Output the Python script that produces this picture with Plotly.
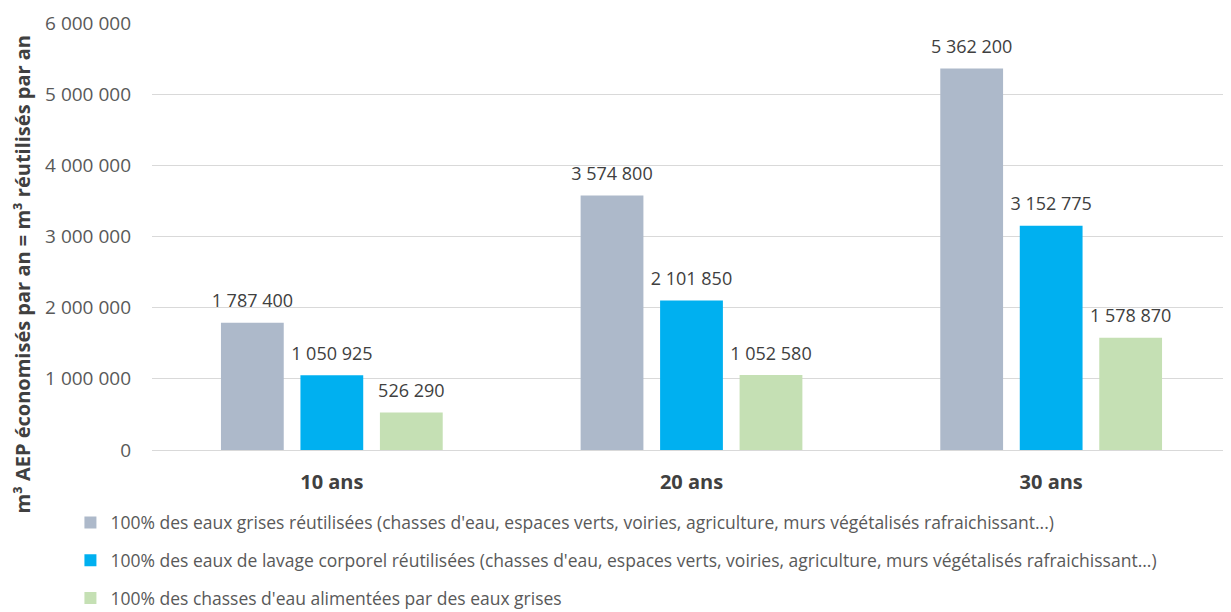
import plotly.graph_objects as go

categories = ["10 ans", "20 ans", "30 ans"]
series_names = [
    "100% des eaux grises réutilisées (chasses d'eau, espaces verts, voiries, agriculture, murs végétalisés rafraichissant...)",
    "100% des eaux de lavage corporel réutilisées (chasses d'eau, espaces verts, voiries, agriculture, murs végétalisés rafraichissant...)",
    "100% des chasses d'eau alimentées par des eaux grises",
]
eaux_grises = [1787400, 3574800, 5362200]
lavage_corporel = [1050925, 2101850, 3152775]
chasses_eau = [526290, 1052580, 1578870]
tick_vals = [0, 1000000, 2000000, 3000000, 4000000, 5000000, 6000000]

colors = ["#adb9ca", "#00b0f0", "#c5e0b4"]
font = "Open Sans, Calibri, sans-serif"
gap = 0.337

fig = go.Figure()
all_series = [eaux_grises, lavage_corporel, chasses_eau]
for i, (name, vals) in enumerate(zip(series_names, all_series)):
    fig.add_trace(
        go.Bar(
            x=categories,
            y=vals,
            name=name,
            legendgroup=f"g{i}",
            marker=dict(color=colors[i], line=dict(width=0)),
        )
    )
# value labels, placed with grouped scatter so they sit a bit above the bars
for i, vals in enumerate(all_series):
    fig.add_trace(
        go.Scatter(
            x=categories,
            y=vals,
            mode="markers+text",
            marker=dict(size=16, opacity=0),
            texttemplate="%{y:,}",
            textposition="top center",
            textfont=dict(size=18, color="#404040", family=font),
            cliponaxis=False,
            showlegend=False,
            hoverinfo="skip",
        )
    )

fig.update_layout(
    width=1223,
    height=604,
    margin=dict(l=144, r=0, t=15, b=162, autoexpand=False),
    barmode="group",
    bargap=gap,
    bargroupgap=0.21,
    scattermode="group",
    scattergap=gap,
    separators=", ",
    plot_bgcolor="white",
    paper_bgcolor="white",
    font=dict(family=font, color="#595959"),
    xaxis=dict(
        showline=False,
        ticks="",
        ticklabelstandoff=18,
        tickfont=dict(size=20, color="#404040", family=font, weight="bold"),
    ),
    yaxis=dict(
        range=[0, 6000000],
        tickvals=tick_vals,
        tickformat=",",
        tickfont=dict(size=19, color="#595959", family=font),
        gridcolor="#d9d9d9",
        gridwidth=1,
        zeroline=True,
        zerolinecolor="#d9d9d9",
        zerolinewidth=1,
        showline=False,
        ticks="",
        ticklabelstandoff=20,
    ),
    annotations=[
        dict(
            text="m³ AEP économisés par an = m³ réutilisés par an",
            xref="paper",
            yref="paper",
            x=-0.12,
            y=0.41,
            textangle=-90,
            xanchor="center",
            yanchor="middle",
            showarrow=False,
            font=dict(size=20, color="#404040", family=font, weight="bold"),
        )
    ],
    legend=dict(
        orientation="v",
        x=-0.0756,
        xanchor="left",
        y=-0.128,
        yanchor="top",
        font=dict(size=17.5, color="#595959", family=font),
        tracegroupgap=12,
        itemwidth=30,
        traceorder="grouped",
    ),
)

fig.write_html("out.html")
